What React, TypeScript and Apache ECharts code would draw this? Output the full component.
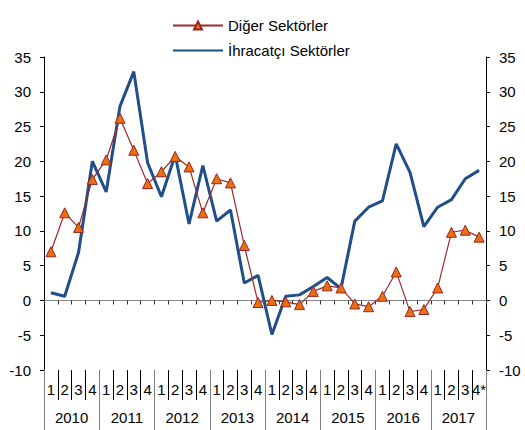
import React, { useEffect, useRef } from "react";
import * as echarts from "echarts";

const years = ["2010", "2011", "2012", "2013", "2014", "2015", "2016", "2017"];
const quarterLabels = [
  "1", "2", "3", "4", "1", "2", "3", "4", "1", "2", "3", "4", "1", "2", "3", "4",
  "1", "2", "3", "4", "1", "2", "3", "4", "1", "2", "3", "4", "1", "2", "3", "4*",
];
const categories = quarterLabels.map((q, i) => years[Math.floor(i / 4)] + "Q" + q);

const digerSektorler = [
  7.0, 12.6, 10.5, 17.4, 20.2, 26.2, 21.6, 16.8,
  18.5, 20.7, 19.2, 12.6, 17.5, 16.9, 7.9, -0.3,
  0.0, -0.2, -0.6, 1.3, 2.1, 1.8, -0.5, -0.9,
  0.6, 4.1, -1.6, -1.3, 1.8, 9.8, 10.1, 9.1,
];
const ihracatciSektorler = [
  1.1, 0.6, 6.9, 20.0, 15.6, 27.9, 32.9, 19.8,
  14.9, 20.9, 11.0, 19.4, 11.4, 13.0, 2.5, 3.6,
  -4.9, 0.6, 0.8, 2.0, 3.3, 1.7, 11.4, 13.4,
  14.3, 22.5, 18.4, 10.6, 13.4, 14.5, 17.5, 18.7,
];
const yTicks = { min: -10, max: 35, interval: 5 };

const FONT = "'Liberation Sans', Arial, sans-serif";

export default function App() {
  const ref = useRef<HTMLDivElement>(null);
  useEffect(() => {
    if (!ref.current) return;
    const chart = echarts.init(ref.current, undefined, { renderer: "svg" });
    const yLabel = { fontSize: 15, color: "#000", fontFamily: FONT, margin: 13 };
    chart.setOption({
      animation: false,
      textStyle: { fontFamily: FONT },
      legend: {
        orient: "vertical",
        left: 167,
        top: 13,
        itemWidth: 50,
        itemHeight: 10,
        itemGap: 10,
        textStyle: { fontSize: 15, color: "#000", fontFamily: FONT },
        data: [
          { name: "Diğer Sektörler" },
          {
            name: "İhracatçı Sektörler",
            itemStyle: { color: "transparent", borderColor: "transparent", borderWidth: 0 },
          },
        ],
      },
      grid: { left: 44, right: 39, top: 57, bottom: 60, containLabel: false },
      xAxis: [
        {
          type: "category",
          data: categories,
          boundaryGap: true,
          axisLine: { onZero: true, lineStyle: { color: "#868686", width: 1 } },
          axisTick: { show: true, length: 4, interval: 0, lineStyle: { color: "#333" } },
          axisLabel: { show: false },
          splitLine: { show: false },
        },
        {
          type: "category",
          data: quarterLabels,
          position: "bottom",
          boundaryGap: true,
          axisLine: { show: false, onZero: false },
          axisTick: { show: true, length: 30, interval: 0, lineStyle: { color: "#000" } },
          axisLabel: { interval: 0, fontSize: 15, color: "#000", fontFamily: FONT, margin: 12 },
          splitLine: { show: false },
        },
        {
          type: "category",
          data: years,
          position: "bottom",
          boundaryGap: true,
          axisLine: { show: false, onZero: false },
          axisTick: { show: true, length: 60, interval: 0, lineStyle: { color: "#808080" } },
          axisLabel: { interval: 0, fontSize: 15, color: "#000", fontFamily: FONT, margin: 40 },
          splitLine: { show: false },
        },
      ],
      yAxis: [
        {
          type: "value",
          position: "left",
          ...yTicks,
          axisLine: { show: true, lineStyle: { color: "#000" } },
          axisTick: { show: true, length: 4, lineStyle: { color: "#000" } },
          axisLabel: yLabel,
          splitLine: { show: false },
        },
        {
          type: "value",
          position: "right",
          ...yTicks,
          axisLine: { show: true, lineStyle: { color: "#000" } },
          axisTick: { show: true, length: 4, lineStyle: { color: "#000" } },
          axisLabel: yLabel,
          splitLine: { show: false },
        },
      ],
      series: [
        {
          name: "İhracatçı Sektörler",
          type: "line",
          xAxisIndex: 0,
          yAxisIndex: 0,
          data: ihracatciSektorler,
          showSymbol: false,
          symbol: "none",
          lineStyle: { color: "#1F4E89", width: 3 },
          itemStyle: { color: "#1F4E89" },
          z: 2,
        },
        {
          name: "Diğer Sektörler",
          type: "line",
          xAxisIndex: 0,
          yAxisIndex: 0,
          data: digerSektorler,
          symbol: "triangle",
          symbolSize: 10,
          showSymbol: true,
          showAllSymbol: true,
          lineStyle: { color: "#A0282D", width: 1.2 },
          itemStyle: { color: "#E8700F", borderColor: "#9B2226", borderWidth: 1 },
          z: 3,
        },
      ],
    });
    return () => chart.dispose();
  }, []);
  return <div ref={ref} style={{ width: 525, height: 430, position: "absolute", left: 0, top: 0 }} />;
}
